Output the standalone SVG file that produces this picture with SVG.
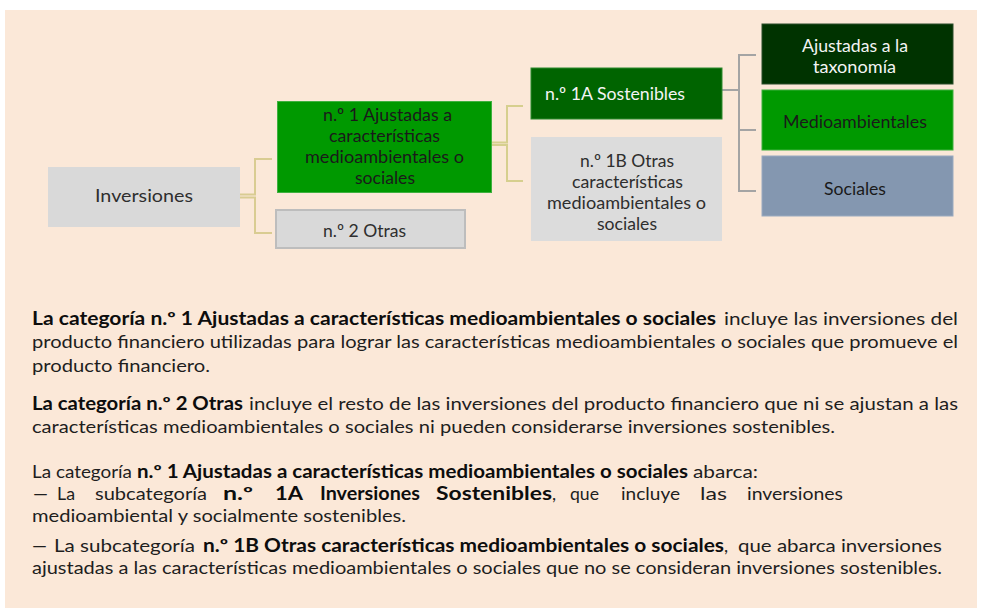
<svg xmlns="http://www.w3.org/2000/svg" width="982" height="609" viewBox="0 0 982 609">
<style>
text{font-family:Lato,"Liberation Sans",sans-serif;}
.n{font-size:17.5px;text-anchor:middle;}
.dk{fill:#1a1a1a;}
.gr{fill:#2e2e2e;}
.wh{fill:#f4f4f4;}
.b{font-size:18px;fill:#1e1e1e;}
.bb{font-size:18px;fill:#0d0d0d;font-weight:bold;}
.c1{fill:none;stroke:#d9cc92;stroke-width:2;}
.c2{fill:none;stroke:#d6cf8e;stroke-width:2;}
.c3{fill:none;stroke:#a4a4a4;stroke-width:2;}
</style>
<rect x="0" y="0" width="982" height="609" fill="#ffffff"/>
<rect x="5" y="10" width="972" height="598" fill="#fbe8d8"/>

<g id="connectors">
<path class="c1" d="M240,194.5 H255 V159 H272"/>
<path class="c1" d="M240,197.5 H255 V233 H272"/>
<path class="c2" d="M492,142.5 H507 V106 H523"/>
<path class="c2" d="M492,145 H507 V181 H523"/>
<path class="c3" d="M722,90 H739 V55 H756"/>
<path class="c3" d="M739,90 V191 H756"/>
<path class="c3" d="M739,130 H756"/>
</g>

<g id="inversiones">
<rect x="48" y="167" width="192" height="60" fill="#d9d9d9"/>
<text class="n gr" x="144" y="202" textLength="98" lengthAdjust="spacingAndGlyphs">Inversiones</text>
</g>

<g id="n1">
<rect x="277.5" y="101.5" width="214" height="91" fill="#009900" stroke="#3fb03f" stroke-width="1"/>
<text class="n dk" x="387.5" y="121" textLength="129" lengthAdjust="spacingAndGlyphs">n.º 1 Ajustadas a</text>
<text class="n dk" x="384.5" y="142" textLength="111" lengthAdjust="spacingAndGlyphs">características</text>
<text class="n dk" x="384.5" y="163" textLength="159" lengthAdjust="spacingAndGlyphs">medioambientales o</text>
<text class="n dk" x="385" y="184" textLength="60" lengthAdjust="spacingAndGlyphs">sociales</text>
</g>

<g id="n2">
<rect x="276" y="210" width="189" height="38" fill="#d9d9d9" stroke="#bdbdbd" stroke-width="2"/>
<text class="n gr" x="364.5" y="237" textLength="83" lengthAdjust="spacingAndGlyphs">n.º 2 Otras</text>
</g>

<g id="n1a">
<rect x="531" y="68" width="191" height="51" fill="#006400" stroke="#2f8a2f" stroke-width="1"/>
<text class="wh" style="font-size:17.5px" x="545" y="100" textLength="140" lengthAdjust="spacingAndGlyphs">n.º 1A Sostenibles</text>
</g>

<g id="n1b">
<rect x="531" y="137" width="191" height="104" fill="#dcdcdc"/>
<text class="n gr" x="627" y="167" textLength="94" lengthAdjust="spacingAndGlyphs">n.º 1B Otras</text>
<text class="n gr" x="627.5" y="188" textLength="111" lengthAdjust="spacingAndGlyphs">características</text>
<text class="n gr" x="626.5" y="209" textLength="159" lengthAdjust="spacingAndGlyphs">medioambientales o</text>
<text class="n gr" x="627" y="230" textLength="60" lengthAdjust="spacingAndGlyphs">sociales</text>
</g>

<g id="taxonomia">
<rect x="762" y="24" width="191" height="60" fill="#003300" stroke="#2a4d2a" stroke-width="1"/>
<text class="n wh" x="855" y="52" textLength="106" lengthAdjust="spacingAndGlyphs">Ajustadas a la</text>
<text class="n wh" x="854.5" y="73" textLength="83" lengthAdjust="spacingAndGlyphs">taxonomía</text>
</g>

<g id="medioambientales">
<rect x="762" y="90" width="191" height="60" fill="#009900" stroke="#3fb03f" stroke-width="1"/>
<text class="n dk" x="855" y="128" textLength="144" lengthAdjust="spacingAndGlyphs">Medioambientales</text>
</g>

<g id="sociales">
<rect x="762" y="156" width="191" height="60" fill="#8497b0" stroke="#9aaac0" stroke-width="1"/>
<text class="n dk" x="855" y="195" textLength="62" lengthAdjust="spacingAndGlyphs">Sociales</text>
</g>

<g id="texto">
<text class="bb" x="32" y="325" textLength="684" lengthAdjust="spacingAndGlyphs">La categoría n.º 1 Ajustadas a características medioambientales o sociales</text>
<text class="b" x="724" y="325" textLength="234" lengthAdjust="spacingAndGlyphs">incluye las inversiones del</text>
<text class="b" x="32" y="348" textLength="926" lengthAdjust="spacingAndGlyphs">producto financiero utilizadas para lograr las características medioambientales o sociales que promueve el</text>
<text class="b" x="32" y="372" textLength="178" lengthAdjust="spacingAndGlyphs">producto financiero.</text>

<text class="bb" x="32" y="410" textLength="211" lengthAdjust="spacingAndGlyphs">La categoría n.º 2 Otras</text>
<text class="b" x="249" y="410" textLength="709" lengthAdjust="spacingAndGlyphs">incluye el resto de las inversiones del producto financiero que ni se ajustan a las</text>
<text class="b" x="32" y="433" textLength="803" lengthAdjust="spacingAndGlyphs">características medioambientales o sociales ni pueden considerarse inversiones sostenibles.</text>

<text class="b" x="32" y="478" textLength="100" lengthAdjust="spacingAndGlyphs">La categoría</text>
<text class="bb" x="137" y="478" textLength="551" lengthAdjust="spacingAndGlyphs">n.º 1 Ajustadas a características medioambientales o sociales</text>
<text class="b" x="693" y="478" textLength="65" lengthAdjust="spacingAndGlyphs">abarca:</text>

<text class="b" x="33" y="500" textLength="15" lengthAdjust="spacingAndGlyphs">—</text>
<text class="b" x="57" y="500" textLength="18" lengthAdjust="spacingAndGlyphs">La</text>
<text class="b" x="95" y="500" textLength="112" lengthAdjust="spacingAndGlyphs">subcategoría</text>
<text class="bb" x="223" y="500" textLength="30" lengthAdjust="spacingAndGlyphs">n.º</text>
<text class="bb" x="275" y="500" textLength="28" lengthAdjust="spacingAndGlyphs">1A</text>
<text class="bb" x="320" y="500" textLength="100" lengthAdjust="spacingAndGlyphs">Inversiones</text>
<text class="bb" x="436" y="500" textLength="116" lengthAdjust="spacingAndGlyphs">Sostenibles</text>
<text class="b" x="552" y="500">,</text>
<text class="b" x="570" y="500" textLength="29" lengthAdjust="spacingAndGlyphs">que</text>
<text class="b" x="621" y="500" textLength="59" lengthAdjust="spacingAndGlyphs">incluye</text>
<text class="b" x="700" y="500" textLength="27" lengthAdjust="spacingAndGlyphs">las</text>
<text class="b" x="747" y="500" textLength="96" lengthAdjust="spacingAndGlyphs">inversiones</text>

<text class="b" x="32" y="522" textLength="374" lengthAdjust="spacingAndGlyphs">medioambiental y socialmente sostenibles.</text>

<text class="b" x="32" y="552" textLength="15" lengthAdjust="spacingAndGlyphs">—</text>
<text class="b" x="54" y="552" textLength="141" lengthAdjust="spacingAndGlyphs">La subcategoría</text>
<text class="bb" x="203" y="552" textLength="521" lengthAdjust="spacingAndGlyphs">n.º 1B Otras características medioambientales o sociales</text>
<text class="b" x="724" y="552">,</text>
<text class="b" x="738" y="552" textLength="204" lengthAdjust="spacingAndGlyphs">que abarca inversiones</text>
<text class="b" x="32" y="574" textLength="910" lengthAdjust="spacingAndGlyphs">ajustadas a las características medioambientales o sociales que no se consideran inversiones sostenibles.</text>
</g>
</svg>
